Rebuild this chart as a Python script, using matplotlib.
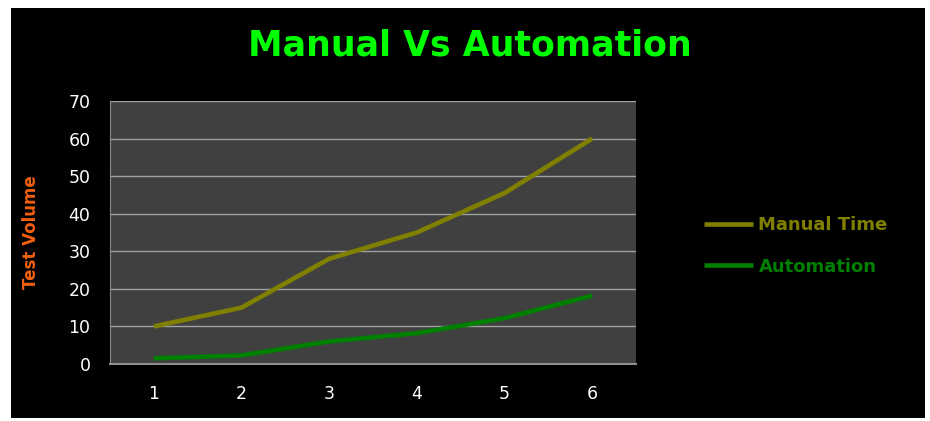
import matplotlib.pyplot as plt
from matplotlib.patches import Rectangle

# Daten
runs = [1, 2, 3, 4, 5, 6]
manual_time = [10, 15, 28, 35, 45.5, 60]
automation = [1.5, 2.3, 6, 8.2, 12.2, 18.2]
y_ticks = [0, 10, 20, 30, 40, 50, 60, 70]

fig = plt.figure(figsize=(9.3, 4.21), dpi=100, facecolor='white')

# schwarzer Hintergrund mit weissem Rand
fig.patches.append(Rectangle((11/930, 1 - 418/421), 914/930, 410/421,
                             transform=fig.transFigure, facecolor='black',
                             edgecolor='none', zorder=-5))

ax = fig.add_axes([110/930, 1 - 364/421, 526/930, 263/421])
ax.set_facecolor('#404040')

ax.plot(runs, manual_time, color='#808000', linewidth=3.3, label='Manual Time',
        solid_capstyle='butt', solid_joinstyle='miter')
ax.plot(runs, automation, color='#008000', linewidth=3.3, label='Automation',
        solid_capstyle='butt', solid_joinstyle='miter')

ax.set_xlim(0.5, 6.5)
ax.set_ylim(0, 70)
ax.set_xticks(runs)
ax.set_yticks(y_ticks)
ax.tick_params(length=0, colors='white', labelsize=12.5)
ax.tick_params(axis='y', pad=14)
ax.tick_params(axis='x', pad=15)
ax.yaxis.grid(True, color='#a0a0a0', linewidth=1.0)
ax.set_axisbelow(True)

for side in ['top', 'right']:
    ax.spines[side].set_visible(False)
ax.spines['left'].set_color('#8c8c8c')
ax.spines['bottom'].set_color('#8c8c8c')
ax.spines['bottom'].set_linewidth(1.5)

# Titel
fig.text(470/930, 1 - 45/421, 'Manual Vs Automation', color='#00ff00',
         fontsize=25, fontweight='bold', ha='center', va='center')

# Y-Achsenbeschriftung
fig.text(31/930, 1 - 232/421, 'Test Volume', color='#f06010', fontsize=12,
         fontweight='bold', rotation=90, ha='center', va='center')

# Legende
leg = fig.legend(loc='center left', bbox_to_anchor=(688/930, 1 - 246/421),
                 frameon=False, fontsize=13, handlelength=2.7,
                 handletextpad=0.3, labelspacing=1.3)
for text, line in zip(leg.get_texts(), leg.get_lines()):
    text.set_color(line.get_color())
    text.set_fontweight('bold')

fig.savefig('out.png', dpi=100, facecolor='white')
